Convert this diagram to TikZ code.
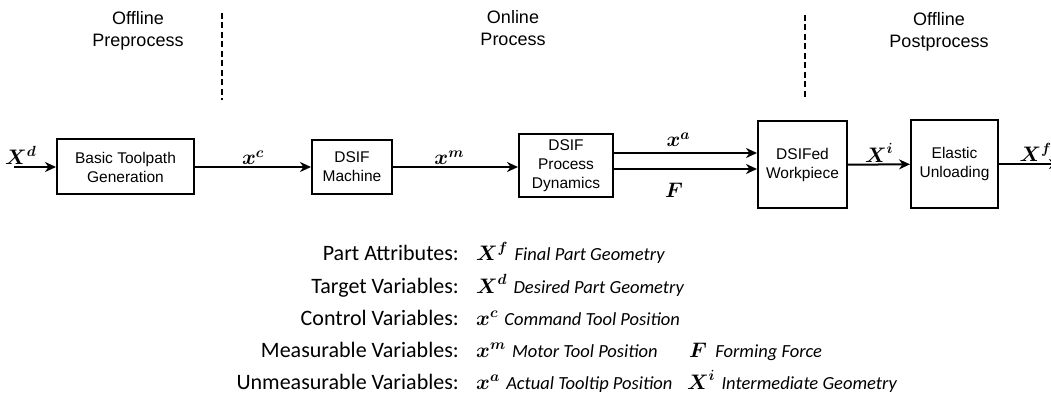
\documentclass[tikz,border=0pt]{standalone}
\usepackage{fix-cm}
\usepackage{amsmath}
\usepackage{fontspec}
\setmainfont{Liberation Sans}
\newfontfamily\legendfont{Carlito}
\usetikzlibrary{positioning, calc, arrows.meta}

\begin{document}
\begin{tikzpicture}[x=1pt, y=-1pt,
  block/.style={draw, line width=2pt, align=center, inner sep=2pt, font=\fontsize{15.5}{19}\selectfont},
  flow/.style={line width=2pt, -{Stealth[length=11pt, width=10pt, inset=3.5pt]}},
  phase/.style={align=center, font=\fontsize{18}{22}\selectfont},
  divider/.style={line width=2.2pt, dash pattern=on 6pt off 3.5pt},
  sym/.style={font=\fontsize{21}{25}\selectfont, inner sep=1pt},
  legend/.style={font=\legendfont\fontsize{22}{26}\selectfont, inner sep=0pt},
  desc/.style={font=\legendfont\itshape\fontsize{18.5}{23}\selectfont, inner sep=0pt}]
\useasboundingbox (0,0) rectangle (1051,395);

% phases
\node[phase] (pre) at (138,31) {Offline\\Preprocess};
\node[phase] (online) at (513,28) {Online\\Process};
\node[phase] (post) at (939,32) {Offline\\Postprocess};
\draw[divider] (222,13) -- (222,100);
\draw[divider] (805,15) -- (805,100);

% blocks
\node[block, minimum width=137pt, minimum height=55pt] (tool) at (125.5,167) {Basic Toolpath\\Generation};
\node[block, minimum width=80pt, minimum height=54pt] (machine) at (352,167) {DSIF\\Machine};
\node[block, minimum width=94pt, minimum height=63pt] (dynamics) at (566,166) {DSIF\\Process\\Dynamics};
\node[block, minimum width=89pt, minimum height=87pt] (workpiece) at (802.5,165) {DSIFed\\Workpiece};
\node[block, minimum width=87pt, minimum height=88pt] (unloading) at (954.5,164) {Elastic\\Unloading};
\coordinate (in) at (14,167);
\coordinate (out) at (1060,164);
\coordinate (dynup) at ($(dynamics.east)+(0,-13)$);
\coordinate (dynlow) at ($(dynamics.east)+(0,3)$);

% signals
\draw[flow] (in) -- node[sym, pos=0.16, above] {$\boldsymbol{X}^{\boldsymbol{d}}$} (tool);
\draw[flow] (tool) -- node[sym, midway, above] {$\boldsymbol{x}^{\boldsymbol{c}}$} (machine);
\draw[flow] (machine) -- node[sym, pos=0.45, above] {$\boldsymbol{x}^{\boldsymbol{m}}$} (machine -| dynamics.west);
\draw[flow] (dynup) -- node[sym, pos=0.45, above=4pt] {$\boldsymbol{x}^{\boldsymbol{a}}$} (workpiece.west |- dynup);
\draw[flow] (dynlow) -- node[sym, pos=0.42, below=12pt] {$\boldsymbol{F}$} (workpiece.west |- dynlow);
\draw[flow] (workpiece) -- node[sym, midway, above] {$\boldsymbol{X}^{\boldsymbol{i}}$} (unloading);
\draw[flow] (unloading) -- node[sym, pos=0.6, above] {$\boldsymbol{X}^{\boldsymbol{f}}$} (out);

% legend
\node[legend, anchor=base east] (partlbl) at (459,261) {Part Attributes:};
\node[sym, anchor=base west] (partsym) at (475,261) {$\boldsymbol{X}^{\boldsymbol{f}}$};
\node[desc, base right=5pt of partsym] (partdesc) {Final Part Geometry};
\node[legend, anchor=base east] (targetlbl) at (459,293) {Target Variables:};
\node[sym, anchor=base west] (targetsym) at (475,293) {$\boldsymbol{X}^{\boldsymbol{d}}$};
\node[desc, base right=5pt of targetsym] (targetdesc) {Desired Part Geometry};
\node[legend, anchor=base east] (controllbl) at (459,325) {Control Variables:};
\node[sym, anchor=base west] (controlsym) at (475,325) {$\boldsymbol{x}^{\boldsymbol{c}}$};
\node[desc, base right=5pt of controlsym] (controldesc) {Command Tool Position};
\node[legend, anchor=base east] (measlbl) at (459,357) {Measurable Variables:};
\node[sym, anchor=base west] (meassym) at (475,357) {$\boldsymbol{x}^{\boldsymbol{m}}$};
\node[desc, base right=5pt of meassym] (measdesc) {Motor Tool Position};
\node[sym, anchor=base west] (forcesym) at (688,357) {$\boldsymbol{F}$};
\node[desc, base right=7pt of forcesym] (forcedesc) {Forming Force};
\node[legend, anchor=base east] (unmeaslbl) at (459,389) {Unmeasurable Variables:};
\node[sym, anchor=base west] (unmeassym) at (475,389) {$\boldsymbol{x}^{\boldsymbol{a}}$};
\node[desc, base right=5pt of unmeassym] (unmeasdesc) {Actual Tooltip Position};
\node[sym, anchor=base west] (intersym) at (686,389) {$\boldsymbol{X}^{\boldsymbol{i}}$};
\node[desc, base right=5pt of intersym] (interdesc) {Intermediate Geometry};
\end{tikzpicture}
\end{document}
